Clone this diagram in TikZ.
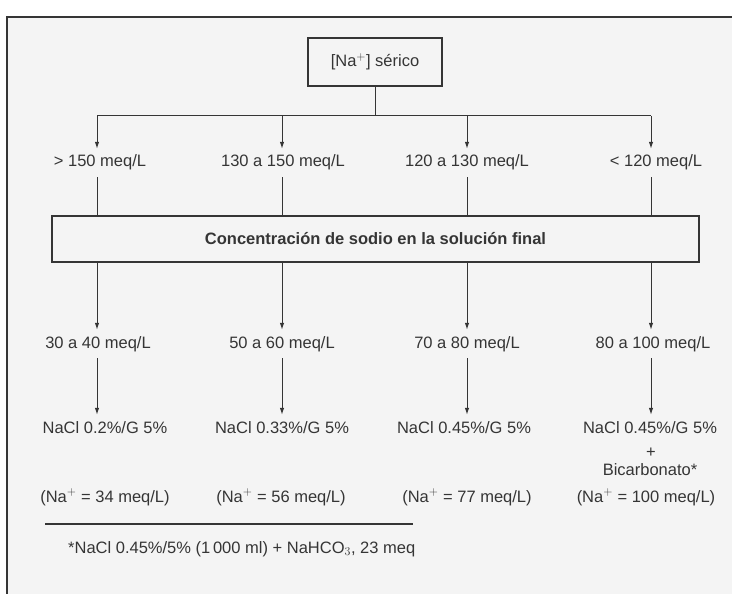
\documentclass[tikz,border=0pt]{standalone}
\usepackage{fontspec}
\setmainfont{Liberation Sans}
\usetikzlibrary{arrows.meta}
\definecolor{ink}{HTML}{353535}
\definecolor{paper}{HTML}{F4F4F4}
\begin{document}
\begin{tikzpicture}[x=1pt,y=-1pt,
  lbl/.style={font=\fontsize{16.5}{18}\selectfont, text=ink, inner xsep=0pt, inner ysep=6pt, text height=12pt, text depth=4pt},
  boxed/.style={draw=ink, line width=1.3pt, font=\fontsize{16.5}{18}\selectfont, text=ink},
  ln/.style={draw=ink, line width=1pt},
  arr/.style={ln, -{Latex[length=7pt,width=4.5pt]}}
]
\useasboundingbox (0,0) rectangle (732,594);
% paper and frame
\fill[white] (0,0) rectangle (732,594);
\fill[paper] (7,17) rectangle (732,594);
\draw[ink, line width=2pt] (7,594) -- (7,17) -- (732,17);

% top node
\node[boxed, minimum width=134pt, minimum height=48pt] (top) at (375,62) {[Na$^{+}$] sérico};
\coordinate (j) at (375,116);
\coordinate (b1) at (97,116);
\coordinate (b2) at (282,116);
\coordinate (b3) at (467,116);
\coordinate (b4) at (651,116);
\draw[ln] (top.south) -- (j);
\draw[ln] (b1) -- (b4);

% row 1
\node[lbl] (r1a) at (100,163) {> 150 meq/L};
\node[lbl] (r1b) at (283,163) {130 a 150 meq/L};
\node[lbl] (r1c) at (467,163) {120 a 130 meq/L};
\node[lbl] (r1d) at (656,163) {< 120 meq/L};
\foreach \r/\b in {r1a/b1,r1b/b2,r1c/b3,r1d/b4}
  \draw[arr] (\b) -- (\r.north -| \b);

% big box
\node[boxed, minimum width=647pt, minimum height=46pt, font=\fontsize{16.5}{18}\selectfont\bfseries] (conc) at (375.5,239) {Concentración de sodio en la solución final};
\foreach \r/\b in {r1a/b1,r1b/b2,r1c/b3,r1d/b4}
  \draw[ln] (\r.south -| \b) -- (conc.north -| \b);

% row 2
\node[lbl] (r2a) at (98,344) {30 a 40 meq/L};
\node[lbl] (r2b) at (282,344) {50 a 60 meq/L};
\node[lbl] (r2c) at (467,344) {70 a 80 meq/L};
\node[lbl] (r2d) at (653,344) {80 a 100 meq/L};
\foreach \r/\b in {r2a/b1,r2b/b2,r2c/b3,r2d/b4}
  \draw[arr] (conc.south -| \b) -- (\r.north -| \b);

% row 3
\node[lbl] (r3a) at (105,429) {NaCl 0.2\%/G 5\%};
\node[lbl] (r3b) at (282,429) {NaCl 0.33\%/G 5\%};
\node[lbl] (r3c) at (464,429) {NaCl 0.45\%/G 5\%};
\node[lbl] (r3d) at (650,429) {NaCl 0.45\%/G 5\%};
\foreach \r/\p/\b in {r3a/r2a/b1,r3b/r2b/b2,r3c/r2c/b3,r3d/r2d/b4}
  \draw[arr] (\p.south -| \b) -- (\r.north -| \b);

\node[lbl, inner ysep=0pt] (plus) at (651,453) {+};
\node[lbl, inner ysep=0pt] (bic) at (650,471) {Bicarbonato*};

% row 4
\node[lbl] (r4a) at (105,498) {(Na$^{+}$ = 34 meq/L)};
\node[lbl] (r4b) at (281,498) {(Na$^{+}$ = 56 meq/L)};
\node[lbl] (r4c) at (467,498) {(Na$^{+}$ = 77 meq/L)};
\node[lbl] (r4d) at (646,498) {(Na$^{+}$ = 100 meq/L)};

% footnote
\coordinate (rl) at (45,524);
\coordinate (rr) at (413,524);
\draw[ink, line width=1.4pt] (rl) -- (rr);
\node[lbl, anchor=west] (foot) at (68,549) {*NaCl 0.45\%/5\% (1\,000 ml) + NaHCO$_3$, 23 meq};
\end{tikzpicture}
\end{document}
